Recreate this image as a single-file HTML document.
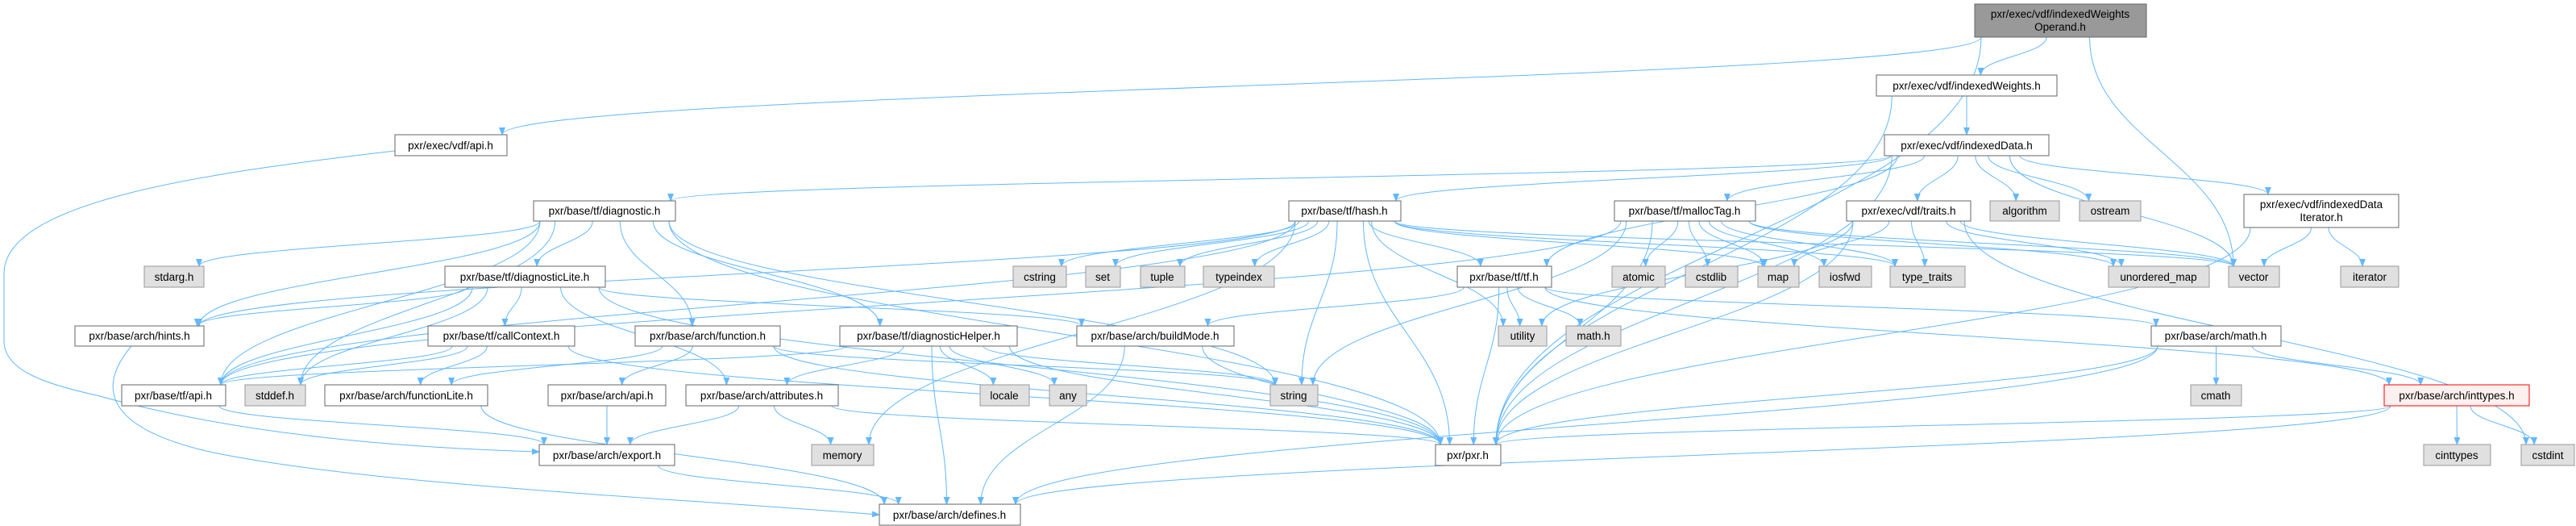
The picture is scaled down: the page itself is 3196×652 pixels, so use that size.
<!DOCTYPE html>
<html><head><meta charset="utf-8"><style>
html,body{margin:0;padding:0;background:#fff;}
svg{display:block;}
text{font-family:"Liberation Sans",sans-serif;font-size:13.5px;fill:#000;}
</style></head><body>
<svg id="g" width="3196" height="652" viewBox="0 0 3196 652" xmlns="http://www.w3.org/2000/svg">
<defs><marker id="ah" markerWidth="10" markerHeight="8" refX="9" refY="4" orient="auto" markerUnits="userSpaceOnUse"><path d="M0,0 L10,4 L0,8 z" fill="#63b8ff"/></marker></defs>
<g id="edges" fill="none" stroke="#63b8ff" stroke-width="1">
<path d="M490,187 C250,215 5,250 5,339 L5,423 C5,460 60,477 120,490 C300,540 500,555 669,560" marker-end="url(#ah)"/>
<path d="M163,429 C120,480 130,530 260,560 C450,600 800,615 1091,638" marker-end="url(#ah)"/>
</g>
<g id="nodes">
<rect x="2450" y="5" width="213" height="41" fill="#999" stroke="#666"/><text x="2556" y="22" text-anchor="middle">pxr/exec/vdf/indexedWeights</text><text x="2556" y="38" text-anchor="middle">Operand.h</text>
<rect x="490" y="167" width="139" height="26" fill="#fff" stroke="#666"/><text x="559" y="185" text-anchor="middle">pxr/exec/vdf/api.h</text>
<rect x="2328" y="93" width="224" height="26" fill="#fff" stroke="#666"/><text x="2440" y="111" text-anchor="middle">pxr/exec/vdf/indexedWeights.h</text>
<rect x="2338" y="167" width="204" height="26" fill="#fff" stroke="#666"/><text x="2440" y="185" text-anchor="middle">pxr/exec/vdf/indexedData.h</text>
<rect x="662" y="249" width="176" height="25" fill="#fff" stroke="#666"/><text x="750" y="266" text-anchor="middle">pxr/base/tf/diagnostic.h</text>
<rect x="1599" y="249" width="139" height="25" fill="#fff" stroke="#666"/><text x="1668" y="266" text-anchor="middle">pxr/base/tf/hash.h</text>
<rect x="2003" y="249" width="175" height="25" fill="#fff" stroke="#666"/><text x="2090" y="266" text-anchor="middle">pxr/base/tf/mallocTag.h</text>
<rect x="2291" y="249" width="154" height="25" fill="#fff" stroke="#666"/><text x="2368" y="266" text-anchor="middle">pxr/exec/vdf/traits.h</text>
<rect x="2469" y="249" width="86" height="25" fill="#e0e0e0" stroke="#999"/><text x="2512" y="266" text-anchor="middle">algorithm</text>
<rect x="2580" y="249" width="76" height="25" fill="#e0e0e0" stroke="#999"/><text x="2618" y="266" text-anchor="middle">ostream</text>
<rect x="2784" y="241" width="192" height="41" fill="#fff" stroke="#666"/><text x="2880" y="258" text-anchor="middle">pxr/exec/vdf/indexedData</text><text x="2880" y="274" text-anchor="middle">Iterator.h</text>
<rect x="179" y="330" width="74" height="26" fill="#e0e0e0" stroke="#999"/><text x="216" y="348" text-anchor="middle">stdarg.h</text>
<rect x="552" y="330" width="199" height="26" fill="#fff" stroke="#666"/><text x="651" y="348" text-anchor="middle">pxr/base/tf/diagnosticLite.h</text>
<rect x="1257" y="330" width="66" height="26" fill="#e0e0e0" stroke="#999"/><text x="1290" y="348" text-anchor="middle">cstring</text>
<rect x="1347" y="330" width="43" height="26" fill="#e0e0e0" stroke="#999"/><text x="1368" y="348" text-anchor="middle">set</text>
<rect x="1415" y="330" width="55" height="26" fill="#e0e0e0" stroke="#999"/><text x="1442" y="348" text-anchor="middle">tuple</text>
<rect x="1493" y="330" width="88" height="26" fill="#e0e0e0" stroke="#999"/><text x="1537" y="348" text-anchor="middle">typeindex</text>
<rect x="1808" y="330" width="117" height="26" fill="#fff" stroke="#666"/><text x="1866" y="348" text-anchor="middle">pxr/base/tf/tf.h</text>
<rect x="2000" y="330" width="66" height="26" fill="#e0e0e0" stroke="#999"/><text x="2033" y="348" text-anchor="middle">atomic</text>
<rect x="2091" y="330" width="65" height="26" fill="#e0e0e0" stroke="#999"/><text x="2123" y="348" text-anchor="middle">cstdlib</text>
<rect x="2181" y="330" width="51" height="26" fill="#e0e0e0" stroke="#999"/><text x="2206" y="348" text-anchor="middle">map</text>
<rect x="2257" y="330" width="65" height="26" fill="#e0e0e0" stroke="#999"/><text x="2289" y="348" text-anchor="middle">iosfwd</text>
<rect x="2345" y="330" width="93" height="26" fill="#e0e0e0" stroke="#999"/><text x="2391" y="348" text-anchor="middle">type_traits</text>
<rect x="2616" y="330" width="125" height="26" fill="#e0e0e0" stroke="#999"/><text x="2678" y="348" text-anchor="middle">unordered_map</text>
<rect x="2765" y="330" width="63" height="26" fill="#e0e0e0" stroke="#999"/><text x="2796" y="348" text-anchor="middle">vector</text>
<rect x="2904" y="330" width="72" height="26" fill="#e0e0e0" stroke="#999"/><text x="2940" y="348" text-anchor="middle">iterator</text>
<rect x="93" y="404" width="160" height="25" fill="#fff" stroke="#666"/><text x="173" y="421" text-anchor="middle">pxr/base/arch/hints.h</text>
<rect x="531" y="404" width="182" height="25" fill="#fff" stroke="#666"/><text x="622" y="421" text-anchor="middle">pxr/base/tf/callContext.h</text>
<rect x="788" y="404" width="180" height="25" fill="#fff" stroke="#666"/><text x="878" y="421" text-anchor="middle">pxr/base/arch/function.h</text>
<rect x="1042" y="404" width="220" height="25" fill="#fff" stroke="#666"/><text x="1152" y="421" text-anchor="middle">pxr/base/tf/diagnosticHelper.h</text>
<rect x="1336" y="404" width="195" height="25" fill="#fff" stroke="#666"/><text x="1433" y="421" text-anchor="middle">pxr/base/arch/buildMode.h</text>
<rect x="1859" y="404" width="60" height="25" fill="#e0e0e0" stroke="#999"/><text x="1889" y="421" text-anchor="middle">utility</text>
<rect x="1943" y="404" width="68" height="25" fill="#e0e0e0" stroke="#999"/><text x="1977" y="421" text-anchor="middle">math.h</text>
<rect x="2669" y="404" width="161" height="25" fill="#fff" stroke="#666"/><text x="2749" y="421" text-anchor="middle">pxr/base/arch/math.h</text>
<rect x="151" y="477" width="129" height="26" fill="#fff" stroke="#666"/><text x="215" y="495" text-anchor="middle">pxr/base/tf/api.h</text>
<rect x="304" y="477" width="75" height="26" fill="#e0e0e0" stroke="#999"/><text x="341" y="495" text-anchor="middle">stddef.h</text>
<rect x="403" y="477" width="202" height="26" fill="#fff" stroke="#666"/><text x="504" y="495" text-anchor="middle">pxr/base/arch/functionLite.h</text>
<rect x="680" y="477" width="146" height="26" fill="#fff" stroke="#666"/><text x="753" y="495" text-anchor="middle">pxr/base/arch/api.h</text>
<rect x="851" y="477" width="189" height="26" fill="#fff" stroke="#666"/><text x="945" y="495" text-anchor="middle">pxr/base/arch/attributes.h</text>
<rect x="1216" y="477" width="61" height="26" fill="#e0e0e0" stroke="#999"/><text x="1246" y="495" text-anchor="middle">locale</text>
<rect x="1302" y="477" width="46" height="26" fill="#e0e0e0" stroke="#999"/><text x="1325" y="495" text-anchor="middle">any</text>
<rect x="1576" y="477" width="59" height="26" fill="#e0e0e0" stroke="#999"/><text x="1605" y="495" text-anchor="middle">string</text>
<rect x="2718" y="477" width="63" height="26" fill="#e0e0e0" stroke="#999"/><text x="2749" y="495" text-anchor="middle">cmath</text>
<rect x="2958" y="477" width="180" height="26" fill="#fff0f0" stroke="#f00"/><text x="3048" y="495" text-anchor="middle">pxr/base/arch/inttypes.h</text>
<rect x="669" y="551" width="168" height="26" fill="#fff" stroke="#666"/><text x="753" y="569" text-anchor="middle">pxr/base/arch/export.h</text>
<rect x="1007" y="551" width="77" height="26" fill="#e0e0e0" stroke="#999"/><text x="1045" y="569" text-anchor="middle">memory</text>
<rect x="1781" y="551" width="81" height="26" fill="#fff" stroke="#666"/><text x="1821" y="569" text-anchor="middle">pxr/pxr.h</text>
<rect x="3007" y="551" width="83" height="26" fill="#e0e0e0" stroke="#999"/><text x="3048" y="569" text-anchor="middle">cinttypes</text>
<rect x="3128" y="551" width="66" height="26" fill="#e0e0e0" stroke="#999"/><text x="3161" y="569" text-anchor="middle">cstdint</text>
<rect x="1091" y="625" width="175" height="26" fill="#fff" stroke="#666"/><text x="1178" y="643" text-anchor="middle">pxr/base/arch/defines.h</text>
</g>
</svg>
<script>
var N={top:[2450,5,213,41],vapi:[490,167,139,26],iw:[2328,93,224,26],id:[2338,167,204,26],diag:[662,249,176,25],hash:[1599,249,139,25],mt:[2003,249,175,25],traits:[2291,249,154,25],alg:[2469,249,86,25],ost:[2580,249,76,25],idi:[2784,241,192,41],stdarg:[179,330,74,26],dl:[552,330,199,26],cstring:[1257,330,66,26],set:[1347,330,43,26],tuple:[1415,330,55,26],tidx:[1493,330,88,26],tf:[1808,330,117,26],atomic:[2000,330,66,26],cstdlib:[2091,330,65,26],map:[2181,330,51,26],iosfwd:[2257,330,65,26],tt:[2345,330,93,26],umap:[2616,330,125,26],vector:[2765,330,63,26],iter:[2904,330,72,26],hints:[93,404,160,25],cc:[531,404,182,25],func:[788,404,180,25],dh:[1042,404,220,25],bm:[1336,404,195,25],util:[1859,404,60,25],mathh:[1943,404,68,25],amath:[2669,404,161,25],tfapi:[151,477,129,26],stddef:[304,477,75,26],fl:[403,477,202,26],aapi:[680,477,146,26],attr:[851,477,189,26],locale:[1216,477,61,26],any:[1302,477,46,26],string:[1576,477,59,26],cmath:[2718,477,63,26],it:[2958,477,180,26],exp:[669,551,168,26],mem:[1007,551,77,26],pxr:[1781,551,81,26],cit:[3007,551,83,26],csi:[3128,551,66,26],def:[1091,625,175,26]};
var E=[["top","vapi"],["top","iw"],["top","vector"],["top","pxr"],["iw","id"],["iw","pxr"],
["id","diag"],["id","hash"],["id","mt"],["id","tf"],["id","traits"],["id","alg"],["id","ost"],["id","vector"],["id","idi"],["id","pxr"],
["diag","stdarg"],["diag","dl"],["diag","hints"],["diag","tfapi"],["diag","stddef"],["diag","func"],["diag","dh"],["diag","string"],["diag","pxr"],
["dl","hints"],["dl","tfapi"],["dl","stddef"],["dl","cc"],["dl","bm"],["dl","attr"],["dl","pxr"],
["cc","tfapi"],["cc","stddef"],["cc","fl"],["cc","pxr"],
["func","aapi"],["func","fl"],["func","string"],["func","pxr"],
["dh","tfapi"],["dh","attr"],["dh","locale"],["dh","any"],["dh","string"],["dh","pxr"],["dh","def"],
["attr","mem"],["attr","exp"],["attr","pxr"],["bm","def"],["bm","pxr"],
["hash","tfapi"],["hash","hints"],["hash","cstring"],["hash","set"],["hash","tuple"],["hash","tidx"],["hash","mem"],["hash","string"],["hash","util"],["hash","pxr"],["hash","tf"],["hash","map"],["hash","tt"],["hash","vector"],
["tf","util"],["tf","mathh"],["tf","pxr"],["tf","amath"],["tf","bm"],["tf","it"],
["mt","tfapi"],["mt","string"],["mt","atomic"],["mt","cstdlib"],["mt","map"],["mt","iosfwd"],["mt","vector"],["mt","pxr"],["mt","tt"],["mt","umap"],
["traits","map"],["traits","tt"],["traits","util"],["traits","umap"],["traits","vector"],["traits","pxr"],["traits","csi"],
["idi","vector"],["idi","iter"],["idi","pxr"],
["amath","cmath"],["amath","it"],["amath","pxr"],["amath","def"],
["it","cit"],["it","csi"],["it","pxr"],["it","def"],
["tfapi","exp"],["aapi","exp"],["fl","def"],["exp","def"]];
var g=document.getElementById("edges"),ns="http://www.w3.org/2000/svg";
E.forEach(function(e){var a=N[e[0]],b=N[e[1]];
var acx=a[0]+a[2]/2,bcx=b[0]+b[2]/2;
var sx=Math.max(a[0]+8,Math.min(a[0]+a[2]-8,acx+(bcx-acx)*0.15)),sy=a[1]+a[3];
var tx=Math.max(b[0]+6,Math.min(b[0]+b[2]-6,bcx+(acx-bcx)*0.15)),ty=b[1];
var d,dy=ty-sy;
if(dy<20){sy=a[1]+a[3]/2;sx=(bcx>acx)?a[0]+a[2]:a[0];d="M"+sx+","+sy+" C"+(sx+(tx-sx)*0.5)+","+sy+" "+tx+","+(ty-30)+" "+tx+","+ty;}
else d="M"+sx+","+sy+" C"+sx+","+(sy+dy*0.45)+" "+tx+","+(ty-dy*0.45)+" "+tx+","+ty;
var p=document.createElementNS(ns,"path");p.setAttribute("d",d);p.setAttribute("marker-end","url(#ah)");g.appendChild(p);});
</script>
</body></html>
